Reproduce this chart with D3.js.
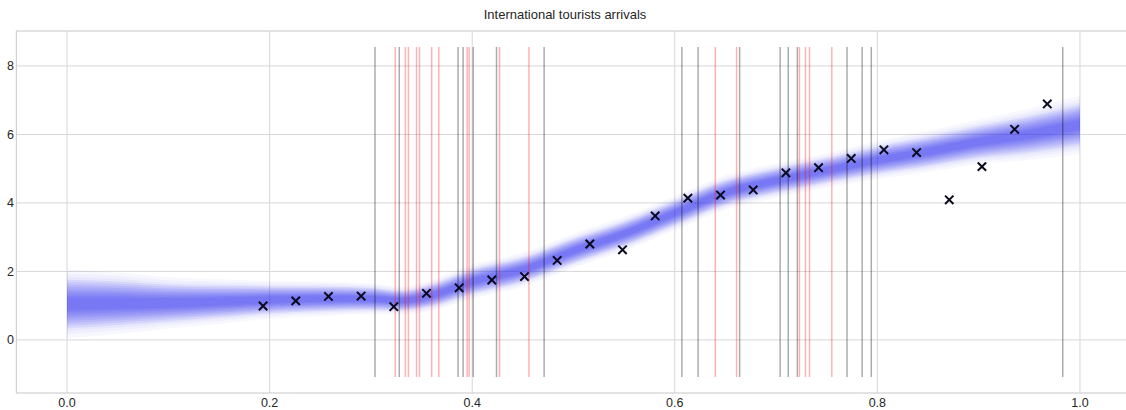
<!DOCTYPE html>
<html>
<head>
<meta charset="utf-8">
<script src="https://cdn.jsdelivr.net/npm/d3@7"></script>
<style>
    body { margin: 0; background: #fff; }
    svg text { font-family: "Liberation Sans", Arial, sans-serif; fill: #262626; }
</style>
</head>
<body>
<div id="chart"></div>
<script>
// observed arrivals (x = k/31)
const obsX = [6, 7, 8, 9, 10, 11, 12, 13, 14, 15, 16, 17, 18, 19, 20, 21, 22, 23, 24, 25, 26, 27, 28, 29, 30].map(k => k / 31)
const obsY = [0.99, 1.14, 1.27, 1.28, 0.97, 1.36, 1.52, 1.75, 1.85, 2.32, 2.80, 2.63, 3.62,
    4.14, 4.23, 4.38, 4.88, 5.03, 5.30, 5.55, 5.47, 4.09, 5.06, 6.15, 6.89]

// posterior band
const bandX = [0, 0.05, 0.1, 0.15, 0.2, 0.25, 0.3, 0.33, 0.36, 0.4, 0.45, 0.5, 0.55, 0.6, 0.65, 0.7, 0.75, 0.8, 0.85, 0.9, 0.95, 1.0]
const bandMid = [1.05, 1.07, 1.08, 1.12, 1.17, 1.2, 1.2, 1.15, 1.3, 1.7, 2.05, 2.6, 3.1, 3.7, 4.3, 4.65, 4.95, 5.25, 5.5, 5.78, 6.0, 6.28]
const bandOuter = [1.0, 0.9, 0.75, 0.65, 0.55, 0.5, 0.45, 0.4, 0.45, 0.5, 0.5, 0.5, 0.5, 0.5, 0.5, 0.5, 0.5, 0.55, 0.6, 0.65, 0.75, 0.85]
const bandInner = [0.5, 0.45, 0.38, 0.32, 0.28, 0.25, 0.22, 0.2, 0.22, 0.24, 0.24, 0.24, 0.24, 0.24, 0.24, 0.24, 0.24, 0.26, 0.28, 0.3, 0.34, 0.38]

// change point draws
const blackLines = [0.304, 0.328, 0.386, 0.391, 0.401, 0.424, 0.471, 0.607, 0.623, 0.664,
    0.704, 0.712, 0.721, 0.770, 0.785, 0.794, 0.983]
const redLines = [0.324, 0.334, 0.337, 0.345, 0.348, 0.360, 0.367, 0.395, 0.397, 0.427, 0.456,
    0.640, 0.661, 0.723, 0.729, 0.733, 0.755]

const xTicks = [0, 0.2, 0.4, 0.6, 0.8, 1.0]
const yTicks = [0, 2, 4, 6, 8]

const W = 1126, H = 410
const svg = d3.select("#chart").append("svg")
    .attr("width", W)
    .attr("height", H)

const x = d3.scaleLinear().domain([-0.05, 1.05]).range([16.4, 1130.6])
const y = d3.scaleLinear().domain([-1.55, 9.02]).range([393, 31])

// grid
svg.append("g").selectAll("line").data(xTicks).enter().append("line")
    .attr("x1", d => x(d)).attr("x2", d => x(d))
    .attr("y1", y.range()[0]).attr("y2", y.range()[1])
    .attr("stroke", "#d6d6d6").attr("stroke-width", 1)
svg.append("g").selectAll("line").data(yTicks).enter().append("line")
    .attr("x1", x.range()[0]).attr("x2", x.range()[1])
    .attr("y1", d => y(d)).attr("y2", d => y(d))
    .attr("stroke", "#d6d6d6").attr("stroke-width", 1)

// frame
svg.append("rect")
    .attr("x", x.range()[0]).attr("y", y.range()[1])
    .attr("width", x.range()[1] - x.range()[0])
    .attr("height", y.range()[0] - y.range()[1])
    .attr("fill", "none").attr("stroke", "#d0d0d0").attr("stroke-width", 1.2)

// band: stacked soft layers from outer spread down to the dense core
const band = bandX.map((v, i) => ({x: v, m: bandMid[i], o: bandOuter[i], n: bandInner[i]}))
const nLayers = 12
for (let k = 0; k < nLayers; k++) {
    const t = k / (nLayers - 1)
    const hw = d => d.o + (d.n * 0.35 - d.o) * Math.pow(t, 0.8)
    const area = d3.area()
        .x(d => x(d.x))
        .y0(d => y(d.m - hw(d)))
        .y1(d => y(d.m + hw(d)))
        .curve(d3.curveMonotoneX)
    svg.append("path")
        .datum(band)
        .attr("d", area)
        .attr("fill", "#2020f0")
        .attr("fill-opacity", k < 3 ? 0.035 : 0.085)
}

// vertical lines
svg.append("g").selectAll("line").data(blackLines).enter().append("line")
    .attr("x1", d => x(d)).attr("x2", d => x(d))
    .attr("y1", y(-1.08)).attr("y2", y(8.55))
    .attr("stroke", "black").attr("stroke-opacity", 0.33).attr("stroke-width", 1.5)
svg.append("g").selectAll("line").data(redLines).enter().append("line")
    .attr("x1", d => x(d)).attr("x2", d => x(d))
    .attr("y1", y(-1.08)).attr("y2", y(8.55))
    .attr("stroke", "red").attr("stroke-opacity", 0.3).attr("stroke-width", 1.5)

// observations
const s = 4.2
svg.append("g").selectAll("path").data(obsX).enter().append("path")
    .attr("d", (d, i) => {
        const cx = x(d), cy = y(obsY[i])
        return `M${cx - s},${cy - s}L${cx + s},${cy + s}M${cx - s},${cy + s}L${cx + s},${cy - s}`
    })
    .attr("stroke", "#0a0a1e").attr("stroke-width", 2)

// tick labels
svg.append("g").selectAll("text").data(xTicks).enter().append("text")
    .attr("x", d => x(d)).attr("y", 407)
    .attr("text-anchor", "middle")
    .style("font-size", "12.5px")
    .text(d => d.toFixed(1))
svg.append("g").selectAll("text").data(yTicks).enter().append("text")
    .attr("x", 14).attr("y", d => y(d) + 4.5)
    .attr("text-anchor", "end")
    .style("font-size", "12.5px")
    .text(d => d)

svg.append("text")
    .attr("x", 565).attr("y", 19)
    .attr("text-anchor", "middle")
    .style("font-size", "13px")
    .text("International tourists arrivals")
</script>
</body>
</html>
